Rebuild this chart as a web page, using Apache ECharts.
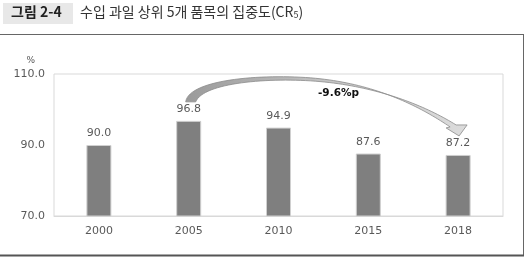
<!DOCTYPE html>
<html>
<head>
<meta charset="utf-8">
<script src="https://cdn.jsdelivr.net/npm/echarts@6/dist/echarts.min.js"></script>
<style>
  html, body { margin: 0; padding: 0; background: #fff; }
  #main { width: 526px; height: 257px; }
</style>
</head>
<body>
<div id="main"></div>
<script>
// 수입 과일 상위 5개 품목의 집중도
const years = ["2000", "2005", "2010", "2015", "2018"];
const cr5 = [90.0, 96.8, 94.9, 87.6, 87.2];
const yTicks = [70, 90, 110];
const changeLabel = "-9.6%p";

const chart = echarts.init(document.getElementById("main"));
const font = "'DejaVu Sans', sans-serif";

let option = {
  animation: false,
  grid: {
    left: 54, right: 23, top: 74, bottom: 41,
    show: true, borderColor: "#d9d9d9", borderWidth: 1,
  },
  xAxis: {
    type: "category",
    data: years,
    axisLine: { lineStyle: { color: "#d9d9d9" } },
    axisTick: { show: false },
    axisLabel: { color: "#595959", fontSize: 11, fontFamily: font, margin: 10 },
  },
  yAxis: {
    type: "value",
    min: yTicks[0], max: yTicks[yTicks.length - 1], interval: 20,
    name: "%",
    nameLocation: "end",
    nameGap: 9,
    nameTextStyle: { color: "#595959", fontSize: 9, fontFamily: font, align: "right", padding: [0, 19, 0, 0] },
    splitLine: { show: false },
    axisLine: { show: false },
    axisTick: { show: false },
    axisLabel: {
      color: "#595959", fontSize: 11, fontFamily: font, margin: 9,
      formatter: (v) => v.toFixed(1),
    },
  },
  series: [
    {
      type: "bar",
      data: cr5,
      barWidth: 25,
      itemStyle: { color: "#7f7f7f", borderColor: "#d0d0d0", borderWidth: 1 },
      label: {
        show: true, position: "top", distance: 6,
        color: "#595959", fontSize: 11, fontFamily: font,
        formatter: (p) => p.value.toFixed(1),
      },
    },
  ],
};
chart.setOption(option);

// sample a cubic bezier into points
function cubic(a, b, c, d, n) {
  const pts = [];
  for (let i = 0; i <= n; i++) {
    const t = i / n, u = 1 - t;
    pts.push([
      u * u * u * a[0] + 3 * u * u * t * b[0] + 3 * u * t * t * c[0] + t * t * t * d[0],
      u * u * u * a[1] + 3 * u * u * t * b[1] + 3 * u * t * t * c[1] + t * t * t * d[1],
    ]);
  }
  return pts;
}

// 2005 -> 2018 arrow, anchored on the chart's own scales
const p0 = chart.convertToPixel({ seriesIndex: 0 }, [1, cr5[1]]);
const p1 = chart.convertToPixel({ seriesIndex: 0 }, [4, cr5[4]]);
const sx = p0[0], sy = p0[1] - 19;
const tx = p1[0] + 1, ty = p1[1] - 19;

const outer = cubic([sx - 3, sy], [sx, sy - 22], [sx + 70, sy - 28], [sx + 122, sy - 24], 30)
  .concat(cubic([sx + 122, sy - 24], [sx + 185, sy - 19], [tx - 40, ty - 30], [tx - 9, ty - 9], 40).slice(1));
const inner = cubic([tx - 3, ty - 11], [tx - 35, ty - 31], [sx + 185, sy - 17], [sx + 122, sy - 21], 40)
  .concat(cubic([sx + 122, sy - 21], [sx + 72, sy - 24], [sx + 14, sy - 18], [sx + 7, sy], 30).slice(1));
const head = [[tx - 13, ty - 8], [tx, ty], [tx + 8, ty - 11]];
const ribbon = outer.concat(head, inner);

chart.setOption({
  graphic: [
    // title tab
    { type: "rect", left: 3, top: 3, shape: { width: 70, height: 21 }, style: { fill: "#e8e8e8" } },
    { type: "text", left: 11, top: 5, style: { text: "그림 2-4", fill: "#222", font: "bold 14px 'Noto Sans CJK KR'" } },
    {
      type: "text", left: 80, top: 5,
      style: {
        text: "수입 과일 상위 5개 품목의 집중도(CR{s|5})",
        fill: "#333", font: "14px 'Noto Sans CJK KR'",
        rich: { s: { fontSize: 9, fontFamily: "Noto Sans CJK KR", verticalAlign: "bottom", padding: [6, 0, 0, 0] } },
      },
    },
    // outer frame: top, right, bottom
    { type: "line", shape: { x1: 0, y1: 34.5, x2: 524, y2: 34.5 }, style: { stroke: "#666", lineWidth: 1 } },
    { type: "line", shape: { x1: 523.5, y1: 34, x2: 523.5, y2: 256 }, style: { stroke: "#666", lineWidth: 1 } },
    { type: "line", shape: { x1: 0, y1: 255.5, x2: 524, y2: 255.5 }, style: { stroke: "#555", lineWidth: 2 } },
    // arrow
    {
      type: "polygon",
      shape: { points: ribbon },
      style: {
        fill: {
          type: "linear", x: 0, y: 0, x2: 1, y2: 0,
          colorStops: [
            { offset: 0, color: "#9a9a9a" },
            { offset: 0.5, color: "#c4c4c4" },
            { offset: 1, color: "#dcdcdc" },
          ],
        },
        stroke: "#8a8a8a", lineWidth: 0.8,
      },
      z: 10,
    },
    {
      type: "text", left: 318, top: 88,
      style: { text: changeLabel, fill: "#111", font: "bold 10.5px 'DejaVu Sans'" },
      z: 12,
    },
  ],
});
</script>
</body>
</html>
